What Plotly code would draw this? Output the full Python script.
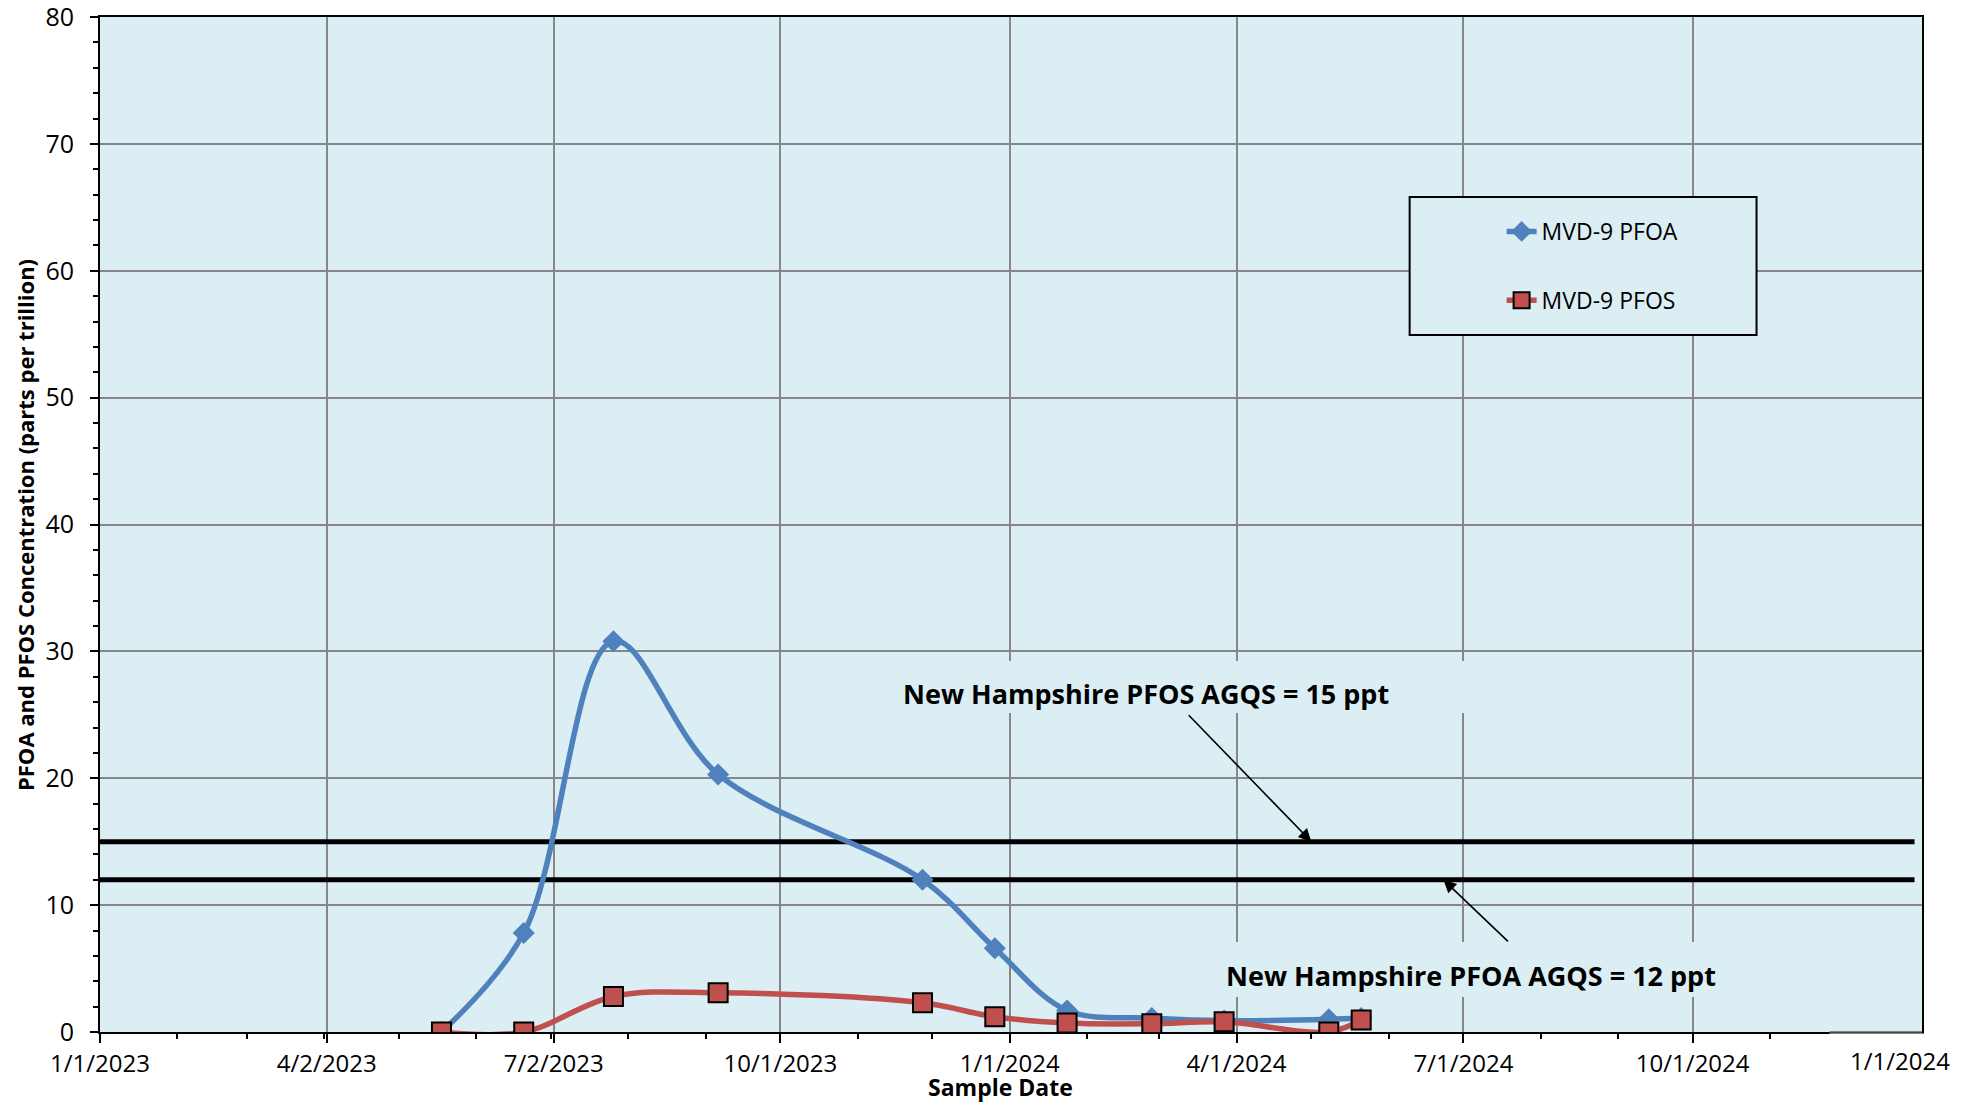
import plotly.graph_objects as go

# ---------------- data ----------------
sample_dates = ["2023-05-18", "2023-06-20", "2023-07-26", "2023-09-06", "2023-11-27",
                "2023-12-26", "2024-01-24", "2024-02-27", "2024-03-27", "2024-05-08",
                "2024-05-21"]
pfoa_values = [0.0, 7.8, 30.8, 20.3, 12.0, 6.6, 1.7, 1.1, 0.9, 1.0, 1.1]
pfos_values = [0.0, 0.0, 2.8, 3.1, 2.3, 1.2, 0.7, 0.65, 0.8, 0.0, 0.95]

standards_names = ["New Hampshire PFOS AGQS = 15 ppt", "New Hampshire PFOA AGQS = 12 ppt"]
standards_values = [15, 12]

x_tick_vals = ["2023-01-01", "2023-04-02", "2023-07-02", "2023-10-01",
               "2024-01-01", "2024-04-01", "2024-07-01", "2024-10-01"]
x_tick_text = ["1/1/2023", "4/2/2023", "7/2/2023", "10/1/2023",
               "1/1/2024", "4/1/2024", "7/1/2024", "10/1/2024"]
x_range = ["2023-01-01", "2025-01-01"]
y_range = [0, 80]

# ---------------- styles ----------------
BG = "#DBEEF4"
BLUE = "#4F81BD"
RED = "#C0504D"
GRID = "#878787"
FONT = "Open Sans"

# page geometry (the page body has an 8px margin)
OFF = 8
PAGE_W, PAGE_H = 1971, 1111
W, H = PAGE_W - 2 * OFF, PAGE_H - 2 * OFF
PL, PR, PT, PB = 100, 1922.5, 17, 1032          # plot area in page pixels
L, T = PL - OFF, PT - OFF
R = W - (PR - OFF)
B = H - (PB - OFF)
pw, ph = PR - PL, PB - PT

def px(xp):
    return (xp - PL) / pw

def py(yp):
    return (PB - yp) / ph

fig = go.Figure()

# standard lines (drawn first, below the data)
for v in standards_values:
    fig.add_trace(go.Scatter(
        x=[x_range[0], "2024-12-29"], y=[v, v], mode="lines",
        line=dict(color="black", width=5), showlegend=False, hoverinfo="skip"))

fig.add_trace(go.Scatter(
    x=sample_dates, y=pfoa_values, name="MVD-9 PFOA", mode="lines+markers",
    line=dict(color=BLUE, width=5.5, shape="spline", smoothing=1.0),
    marker=dict(symbol="diamond", size=17, color=BLUE),
    legendgroup="a"))
fig.add_trace(go.Scatter(
    x=sample_dates, y=pfos_values, name="MVD-9 PFOS", mode="lines+markers",
    line=dict(color=RED, width=5.5, shape="spline", smoothing=1.0),
    marker=dict(symbol="square", size=19, color=RED, line=dict(color="black", width=2)),
    legendgroup="b"))

shapes = []
# legend box
shapes.append(dict(type="rect", xref="paper", yref="paper",
                   x0=px(1410), x1=px(1757), y0=py(335), y1=py(197),
                   fillcolor=BG, line=dict(color="black", width=2), layer="above"))
# label boxes (cover the grid lines behind the texts)
shapes.append(dict(type="rect", xref="paper", yref="paper",
                   x0=px(885), x1=px(1478), y0=py(713), y1=py(661),
                   fillcolor=BG, line=dict(width=0), layer="above"))
shapes.append(dict(type="rect", xref="paper", yref="paper",
                   x0=px(1215), x1=px(1725), y0=py(997), y1=py(942),
                   fillcolor=BG, line=dict(width=0), layer="above"))
# white box covering the end of x axis
shapes.append(dict(type="rect", xref="paper", yref="paper",
                   x0=px(1830), x1=px(1962), y0=py(1100), y1=py(1033.5),
                   fillcolor="white", line=dict(width=0), layer="above"))
shapes.append(dict(type="line", xref="paper", yref="paper",
                   x0=px(1830), x1=1, y0=0, y1=0,
                   line=dict(color="#606060", width=1.5), layer="above"))

annotations = []
# standards labels
annotations.append(dict(xref="paper", yref="paper", x=px(1146), y=py(693),
                        text="<b>" + standards_names[0] + "</b>", showarrow=False,
                        font=dict(family=FONT, size=27, color="black"),
                        xanchor="center", yanchor="middle"))
annotations.append(dict(xref="paper", yref="paper", x=px(1471), y=py(975),
                        text="<b>" + standards_names[1] + "</b>", showarrow=False,
                        font=dict(family=FONT, size=27, color="black"),
                        xanchor="center", yanchor="middle"))
# arrows
annotations.append(dict(xref="x", yref="y", x="2024-05-01", y=standards_values[0],
                        text="", showarrow=True, ax=-124, ay=-128,
                        arrowhead=2, arrowsize=1.6, arrowwidth=1.6, arrowcolor="black"))
annotations.append(dict(xref="x", yref="y", x="2024-06-23", y=standards_values[1],
                        text="", showarrow=True, ax=66, ay=63,
                        arrowhead=2, arrowsize=1.6, arrowwidth=1.6, arrowcolor="black"))
# axis titles
annotations.append(dict(xref="paper", yref="paper", x=px(25), y=py(525),
                        text="<b>PFOA and PFOS Concentration (parts per trillion)</b>",
                        textangle=-90, showarrow=False, xanchor="center", yanchor="middle",
                        font=dict(family=FONT, size=22, color="black")))
annotations.append(dict(xref="paper", yref="paper", x=px(1001), y=py(1087),
                        text="<b>Sample Date</b>", showarrow=False,
                        xanchor="center", yanchor="middle",
                        font=dict(family=FONT, size=23, color="black")))
# stray end label
annotations.append(dict(xref="paper", yref="paper", x=px(1900), y=py(1060),
                        text="1/1/2024", showarrow=False, xanchor="center", yanchor="middle",
                        font=dict(family=FONT, size=24, color="black")))

fig.update_layout(
    width=W, height=H,
    margin=dict(l=L, r=R, t=T, b=B, autoexpand=False),
    paper_bgcolor="white", plot_bgcolor=BG,
    font=dict(family=FONT, size=24, color="black"),
    showlegend=True,
    legend=dict(x=px(1502), y=py(210), xanchor="left", yanchor="top",
                bgcolor="rgba(0,0,0,0)", borderwidth=0,
                font=dict(family=FONT, size=23, color="black"),
                traceorder="grouped", tracegroupgap=36, itemsizing="trace"),
    shapes=shapes, annotations=annotations,
)

fig.update_xaxes(
    type="date", range=x_range, tickmode="array", tickvals=x_tick_vals, ticktext=x_tick_text,
    showgrid=True, gridcolor=GRID, gridwidth=1.5,
    showline=True, linecolor="black", linewidth=2, mirror=True,
    ticks="outside", ticklen=9, tickwidth=2, tickcolor="black",
    minor=dict(ticks="outside", ticklen=5, tickwidth=1.5, tickcolor="black",
               dtick="M1", tick0="2023-01-01", showgrid=False),
    tickfont=dict(family=FONT, size=24, color="black"), zeroline=False,
)
fig.update_yaxes(
    range=y_range, dtick=10, tick0=0,
    showgrid=True, gridcolor=GRID, gridwidth=1.5,
    showline=True, linecolor="black", linewidth=2, mirror=True,
    ticks="outside", ticklen=8, tickwidth=2, tickcolor="black",
    minor=dict(ticks="outside", ticklen=5, tickwidth=1.5, tickcolor="black",
               dtick=2, showgrid=False),
    tickfont=dict(family=FONT, size=25, color="black"), zeroline=False,
    ticklabelstandoff=11, ticklabeloverflow="allow",
)

fig.write_html("out.html")
